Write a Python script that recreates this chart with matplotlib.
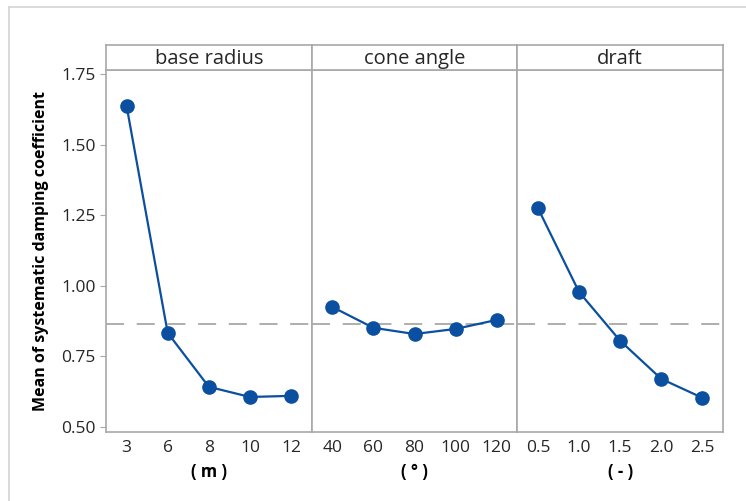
import matplotlib
matplotlib.use("Agg")
import matplotlib.pyplot as plt
from matplotlib.lines import Line2D

# factor levels and main-effect means
factors = ["base radius", "cone angle", "draft"]
units = ["( m )", "( \u00b0 )", "( - )"]
radius_levels = ["3", "6", "8", "10", "12"]
radius_means = [1.637, 0.833, 0.642, 0.606, 0.610]
angle_levels = ["40", "60", "80", "100", "120"]
angle_means = [0.925, 0.851, 0.829, 0.847, 0.879]
draft_levels = ["0.5", "1.0", "1.5", "2.0", "2.5"]
draft_means = [1.275, 0.978, 0.805, 0.670, 0.603]
grand_mean = 0.866
y_ticks = [0.50, 0.75, 1.00, 1.25, 1.50, 1.75]

levels = [radius_levels, angle_levels, draft_levels]
means = [radius_means, angle_means, draft_means]

plt.rcParams["font.family"] = ["Open Sans", "DejaVu Sans"]

blue = "#0A4FA0"
frame = "#A8A8A8"
text_c = "#262626"

fig = plt.figure(figsize=(7.46, 5.01), dpi=100)

left, right = 106 / 746, 723 / 746
bottom, top, strip_top = 1 - 432 / 501, 1 - 70 / 501, 1 - 45 / 501
w = (right - left) / 3

for i in range(3):
    ax = fig.add_axes([left + i * w, bottom, w, top - bottom])
    x = list(range(len(levels[i])))
    ax.plot(x, means[i], color=blue, lw=1.6, marker="o", ms=9.5, zorder=3)
    ax.axhline(grand_mean, color="#A8A8A8", lw=1.3, dashes=(10, 7), zorder=1)
    ax.set_xlim(-0.5, len(x) - 0.5)
    ax.set_ylim(0.482, 1.764)
    ax.set_xticks(x)
    ax.set_xticklabels(levels[i])
    ax.set_yticks(y_ticks)
    ax.tick_params(axis="x", length=0, pad=6, labelsize=12.5, colors=text_c)
    ax.tick_params(axis="y", length=4, color=frame, labelsize=12.5, colors=text_c)
    for s in ax.spines.values():
        s.set_color(frame)
        s.set_linewidth(1.2)
    if i == 0:
        ax.set_yticklabels(["%.2f" % v for v in y_ticks])
        ax.set_ylabel("Mean of systematic damping coefficient", fontsize=11.5,
                      fontweight="bold", color="black", labelpad=9)
    else:
        ax.tick_params(axis="y", left=False, labelleft=False)
    ax.set_xlabel(units[i], fontsize=12, fontweight="bold", color="black", labelpad=5)

    # strip with factor name
    sax = fig.add_axes([left + i * w, top, w, strip_top - top])
    sax.set_xticks([])
    sax.set_yticks([])
    for s in sax.spines.values():
        s.set_color(frame)
        s.set_linewidth(1.2)
    sax.text(0.5, 0.45, factors[i], ha="center", va="center", fontsize=14.5,
             color=text_c, transform=sax.transAxes)

# light border of the original figure
fig.add_artist(Line2D([9 / 746, 9 / 746], [0, 1 - 7 / 501], color="#D4D4D4", lw=1.2))
fig.add_artist(Line2D([9 / 746, 1], [1 - 7 / 501, 1 - 7 / 501], color="#D4D4D4", lw=1.2))

fig.savefig("out.png", dpi=100)
